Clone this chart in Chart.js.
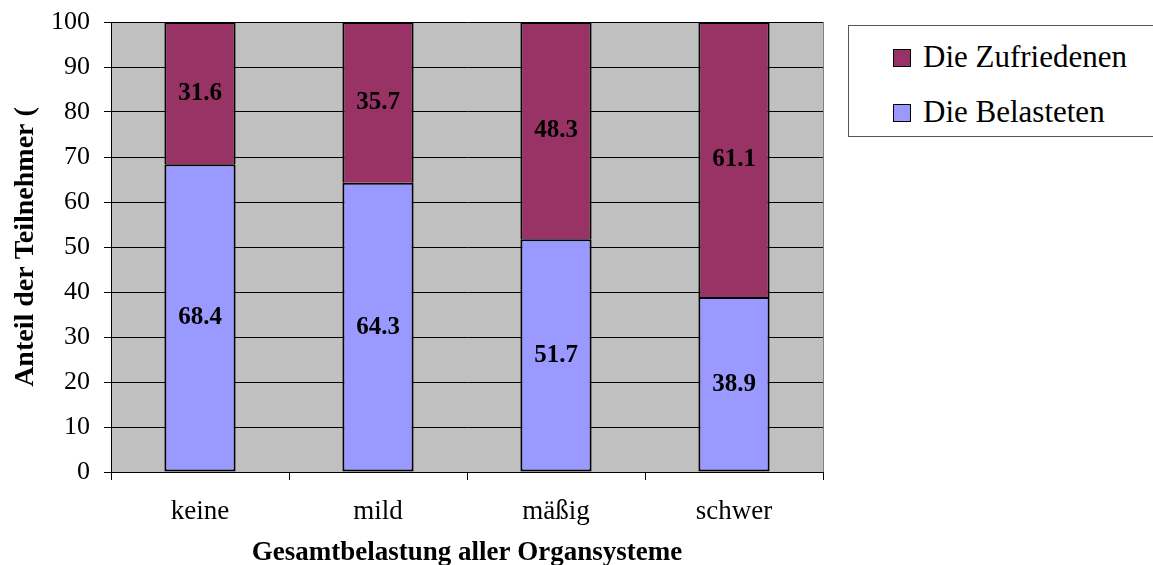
<!DOCTYPE html>
<html>
<head>
<meta charset="utf-8">
<script src="https://cdn.jsdelivr.net/npm/chart.js@4"></script>
<style>
  body { margin: 0; background: #fff; font-family: "Liberation Serif", "Times New Roman", serif; }
  #wrap { position: relative; width: 1153px; height: 565px; overflow: hidden; }
  #legend { position: absolute; left: 848px; top: 25px; width: 330px; height: 112px;
            border: 1px solid #555; box-sizing: border-box; background: #fff; }
  .item { position: absolute; left: 44px; font-size: 31px; line-height: 30px; color: #000; white-space: nowrap; }
  .sw { display: inline-block; width: 16px; height: 16px; border: 1.5px solid #000;
        vertical-align: middle; margin-right: 12px; position: relative; top: -2px; }
</style>
</head>
<body>
<div id="wrap">
  <canvas id="chart"></canvas>
  <div id="legend"></div>
</div>
<script>
// Daten
const categories = ['keine', 'mild', 'mäßig', 'schwer'];
const belastet = [68.4, 64.3, 51.7, 38.9];
const zufrieden = [31.6, 35.7, 48.3, 61.1];
const yTicks = [0, 10, 20, 30, 40, 50, 60, 70, 80, 90, 100];

const serif = '"Liberation Serif", "Times New Roman", serif';

// Hintergrund der Zeichenfläche
const plotBg = {
  id: 'plotBg',
  beforeDraw(chart) {
    const { ctx, chartArea: a } = chart;
    ctx.save();
    ctx.fillStyle = '#C0C0C0';
    ctx.fillRect(a.left, a.top, a.right - a.left, a.bottom - a.top);
    ctx.strokeStyle = '#808080';
    ctx.lineWidth = 1;
    ctx.beginPath();
    ctx.moveTo(a.right + 0.5, a.top);
    ctx.lineTo(a.right + 0.5, a.bottom);
    ctx.stroke();
    ctx.restore();
  }
};

// Werte in die Balken schreiben
const valueLabels = {
  id: 'valueLabels',
  afterDatasetsDraw(chart) {
    const ctx = chart.ctx;
    ctx.save();
    ctx.font = 'bold 25px ' + serif;
    ctx.fillStyle = '#000';
    ctx.textAlign = 'center';
    ctx.textBaseline = 'middle';
    chart.data.datasets.forEach((ds, i) => {
      chart.getDatasetMeta(i).data.forEach((bar, j) => {
        const p = bar.getCenterPoint();
        ctx.fillText(ds.data[j].toFixed(1), p.x, p.y);
      });
    });
    ctx.restore();
  }
};

const chart = new Chart(document.getElementById('chart'), {
  type: 'bar',
  data: {
    labels: categories,
    datasets: [
      { label: 'Die Belasteten', data: belastet, backgroundColor: '#9999FF',
        borderColor: '#000', borderWidth: 2, borderSkipped: false,
        barPercentage: 0.4, categoryPercentage: 1 },
      { label: 'Die Zufriedenen', data: zufrieden, backgroundColor: '#993366',
        borderColor: '#000', borderWidth: 2, borderSkipped: 'bottom',
        barPercentage: 0.4, categoryPercentage: 1 }
    ]
  },
  options: {
    responsive: true,
    maintainAspectRatio: false,
    animation: false,
    layout: { padding: { top: 22, right: 330, bottom: 0, left: 0 } },
    plugins: { legend: { display: false }, tooltip: { enabled: false } },
    scales: {
      x: {
        stacked: true,
        afterFit(s) { s.height = 93; },
        grid: { offset: true, drawOnChartArea: false, color: '#000', tickLength: 8 },
        border: { color: '#000' },
        ticks: { color: '#000', font: { family: serif, size: 27 }, padding: 16 },
        title: { display: true, text: 'Gesamtbelastung aller Organsysteme', color: '#000',
                 font: { family: serif, size: 27, weight: 'bold', lineHeight: 0.85 },
                 padding: { top: 0, bottom: 0 } }
      },
      y: {
        stacked: true,
        min: 0, max: 100,
        afterFit(s) { s.width = 111; s.paddingTop = 0; s.paddingBottom = 0; },
        afterBuildTicks(s) { s.ticks = yTicks.map(v => ({ value: v })); },
        grid: { color: '#000', tickLength: 7 },
        border: { color: '#000' },
        ticks: { color: '#000', font: { family: serif, size: 26 }, padding: 14 },
        title: { display: true, text: 'Anteil der Teilnehmer (', color: '#000',
                 font: { family: serif, size: 28, weight: 'bold' },
                 padding: { top: 9, bottom: 0 } }
      }
    }
  },
  plugins: [plotBg, valueLabels]
});

// Legende (oben: Zufriedene)
const legend = document.getElementById('legend');
const legendItems = [
  { text: 'Die Zufriedenen', color: '#993366', top: 16 },
  { text: 'Die Belasteten', color: '#9999FF', top: 71 }
];
legendItems.forEach(it => {
  const d = document.createElement('div');
  d.className = 'item';
  d.style.top = it.top + 'px';
  d.innerHTML = '<span class="sw" style="background:' + it.color + '"></span>' + it.text;
  legend.appendChild(d);
});
</script>
</body>
</html>
